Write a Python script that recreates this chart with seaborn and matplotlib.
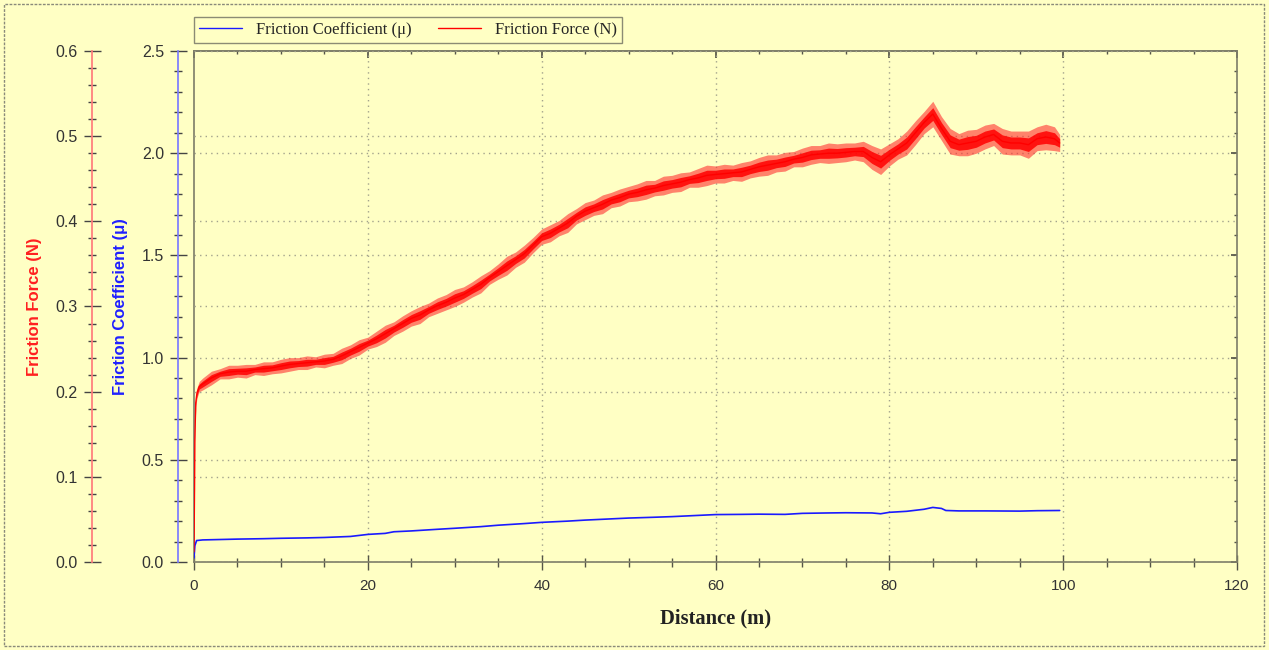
import matplotlib
matplotlib.use("Agg")
import numpy as np
import pandas as pd
import matplotlib.pyplot as plt
import seaborn as sns
from matplotlib.ticker import MultipleLocator
from matplotlib.patches import Rectangle

# ---- friction force (N) vs distance (m) ----
force_dist = [0.0, 0.05, 0.1, 0.2, 0.35, 0.6,
              1, 2, 3, 4, 5, 6, 7, 8, 9, 10,
              11, 12, 13, 14, 15, 16, 17, 18, 19, 20,
              21, 22, 23, 24, 25, 26, 27, 28, 29, 30,
              31, 32, 33, 34, 35, 36, 37, 38, 39, 40,
              41, 42, 43, 44, 45, 46, 47, 48, 49, 50,
              51, 52, 53, 54, 55, 56, 57, 58, 59, 60,
              61, 62, 63, 64, 65, 66, 67, 68, 69, 70,
              71, 72, 73, 74, 75, 76, 77, 78, 79, 80,
              81, 82, 83, 84, 85, 86, 87, 88, 89, 90,
              91, 92, 93, 94, 95, 96, 97, 98, 99, 99.6]
force_n = [0.012, 0.072, 0.144, 0.187, 0.199, 0.206,
           0.209, 0.216, 0.221, 0.223, 0.224, 0.224, 0.226, 0.227, 0.228, 0.230,
           0.232, 0.233, 0.234, 0.235, 0.236, 0.238, 0.242, 0.247, 0.252, 0.257,
           0.262, 0.268, 0.274, 0.280, 0.286, 0.290, 0.296, 0.301, 0.305, 0.310,
           0.314, 0.320, 0.326, 0.334, 0.341, 0.348, 0.355, 0.362, 0.372, 0.382,
           0.386, 0.392, 0.398, 0.406, 0.412, 0.416, 0.420, 0.425, 0.428, 0.432,
           0.434, 0.437, 0.439, 0.442, 0.444, 0.446, 0.449, 0.451, 0.454, 0.455,
           0.456, 0.457, 0.458, 0.461, 0.464, 0.466, 0.468, 0.470, 0.473, 0.475,
           0.478, 0.479, 0.480, 0.480, 0.481, 0.482, 0.482, 0.475, 0.470, 0.478,
           0.485, 0.492, 0.504, 0.516, 0.526, 0.509, 0.494, 0.490, 0.492, 0.494,
           0.499, 0.502, 0.494, 0.492, 0.492, 0.490, 0.497, 0.499, 0.497, 0.492]
# half-width of the measured fluctuation band around the force trace
force_spread = [0.0, 0.003, 0.004, 0.005, 0.006, 0.006,
                0.007, 0.008, 0.006, 0.008, 0.007, 0.008, 0.006, 0.008, 0.007, 0.008,
                0.008, 0.007, 0.008, 0.006, 0.008, 0.007, 0.009, 0.008, 0.009, 0.007,
                0.009, 0.010, 0.008, 0.009, 0.009, 0.010, 0.008, 0.009, 0.009, 0.010,
                0.009, 0.009, 0.010, 0.008, 0.009, 0.011, 0.009, 0.010, 0.009, 0.009,
                0.010, 0.009, 0.011, 0.009, 0.010, 0.009, 0.011, 0.009, 0.010, 0.009,
                0.010, 0.011, 0.009, 0.011, 0.010, 0.011, 0.009, 0.011, 0.012, 0.010,
                0.011, 0.009, 0.011, 0.010, 0.011, 0.012, 0.010, 0.011, 0.009, 0.011,
                0.011, 0.010, 0.012, 0.011, 0.011, 0.010, 0.012, 0.014, 0.015, 0.013,
                0.012, 0.014, 0.014, 0.013, 0.015, 0.014, 0.015, 0.013, 0.015, 0.014,
                0.014, 0.013, 0.015, 0.014, 0.014, 0.016, 0.014, 0.015, 0.014, 0.010]

# ---- friction coefficient vs distance ----
mu_dist = [0, 0.1, 0.3, 1, 3, 5, 8, 10, 13, 15, 18, 20, 22, 23, 25, 28, 30,
           33, 35, 38, 40, 43, 45, 48, 50, 53, 55, 58, 60, 63, 65, 68, 70,
           73, 75, 78, 79, 80, 82, 84, 85, 86, 86.5, 88, 91, 95, 97, 99.6]
mu_vals = [0.02, 0.08, 0.105, 0.108, 0.110, 0.112, 0.114, 0.116, 0.118, 0.120,
           0.125, 0.135, 0.140, 0.148, 0.152, 0.160, 0.165, 0.173, 0.180, 0.188,
           0.194, 0.200, 0.205, 0.211, 0.215, 0.219, 0.222, 0.228, 0.232, 0.233,
           0.234, 0.233, 0.238, 0.240, 0.241, 0.240, 0.236, 0.243, 0.248, 0.258,
           0.267, 0.262, 0.252, 0.250, 0.250, 0.249, 0.251, 0.252]

x_ticks = [0, 20, 40, 60, 80, 100, 120]
mu_ticks = [0.0, 0.5, 1.0, 1.5, 2.0, 2.5]
force_ticks = [0.0, 0.1, 0.2, 0.3, 0.4, 0.5, 0.6]

label_mu = "Friction Coefficient (\u03bc)"
label_force = "Friction Force (N)"

force_df = pd.DataFrame({"dist": force_dist, "force": force_n, "spread": force_spread})
mu_df = pd.DataFrame({"dist": mu_dist, "mu": mu_vals})

sns.set_theme(style="ticks")
plt.rcParams["font.family"] = ["Liberation Sans", "DejaVu Sans"]

BG = "#FFFFC4"
FRAME = "#7d7d68"
GRID = "#a3a38c"
TICKLAB = "#333333"
PX = 0.72  # points per pixel at 100 dpi

fig = plt.figure(figsize=(12.69, 6.5), dpi=100, facecolor=BG)
ax = fig.add_axes([194 / 1269, 88 / 650, 1043 / 1269, 511 / 650])
ax.set_facecolor(BG)

# axis carrying the coefficient scale, and the one carrying force
ax_mu = ax.twinx()
ax_f = ax.twinx()
for a in (ax_mu, ax_f):
    a.patch.set_visible(False)
    for s in ("top", "bottom", "right"):
        a.spines[s].set_visible(False)
    a.yaxis.tick_left()
    a.yaxis.set_label_position("left")
    a.spines["left"].set_visible(True)

ax_mu.spines["left"].set_position(("outward", 16 * PX))
ax_f.spines["left"].set_position(("outward", 102 * PX))
ax_mu.spines["left"].set_color("#7b7bff")
ax_f.spines["left"].set_color("#ff7b7b")

# main frame
ax.set_xlim(0, 120)
ax.set_ylim(0, 2.5)
ax_mu.set_ylim(0, 2.5)
ax_f.set_ylim(0, 0.6)
for s in ax.spines.values():
    s.set_color(FRAME)
    s.set_linewidth(1.2)

ax.set_xticks(x_ticks)
ax.xaxis.set_minor_locator(MultipleLocator(5))
ax.tick_params(axis="x", which="major", direction="inout", length=15 * PX,
               width=1, color="#555548", labelsize=11, labelcolor=TICKLAB, pad=7)
ax.tick_params(axis="x", which="minor", direction="inout", length=9 * PX,
               width=1, color="#555548")

top = ax.secondary_xaxis("top")
top.set_xticks(x_ticks)
top.xaxis.set_minor_locator(MultipleLocator(5))
top.tick_params(which="major", direction="in", length=7 * PX, color="#555548", labeltop=False)
top.tick_params(which="minor", direction="in", length=3 * PX, color="#555548")
top.spines["top"].set_color(FRAME)
top.spines["top"].set_linewidth(1.2)

ax.yaxis.tick_right()
ax.set_yticks(mu_ticks)
ax.yaxis.set_minor_locator(MultipleLocator(0.1))
ax.tick_params(axis="y", which="major", direction="in", length=6 * PX,
               color="#555548", labelright=False)
ax.tick_params(axis="y", which="minor", direction="in", length=3 * PX, color="#555548")

ax_mu.set_yticks(mu_ticks)
ax_mu.yaxis.set_minor_locator(MultipleLocator(0.1))
ax_f.set_yticks(force_ticks)
ax_f.yaxis.set_minor_locator(MultipleLocator(0.02))
for a in (ax_mu, ax_f):
    a.tick_params(axis="y", which="major", direction="inout", length=17 * PX,
                  width=1, color="#444444", labelsize=11.5, labelcolor=TICKLAB, pad=4)
    a.tick_params(axis="y", which="minor", direction="inout", length=8 * PX,
                  width=1, color="#444444")
    a.yaxis.set_major_formatter(matplotlib.ticker.FormatStrFormatter("%.1f"))

# dotted grid: verticals + both sets of horizontals
grid_kw = dict(color=GRID, linestyle=(0, (1, 3)), linewidth=1.0)
for xv in x_ticks[1:-1]:
    ax.axvline(xv, zorder=0.5, **grid_kw)
for yv in mu_ticks[1:-1]:
    ax.axhline(yv, zorder=0.5, **grid_kw)
ax_f.set_axisbelow(True)
ax_f.yaxis.grid(True, which="major", **grid_kw)
ax_f.xaxis.grid(False)
ax_mu.grid(False)
ax.grid(False)

# data traces
sns.lineplot(data=mu_df, x="dist", y="mu", ax=ax_mu, color="#1a1aff",
             linewidth=1.2, legend=False, estimator=None)
ax_f.fill_between(force_df["dist"], force_df["force"] - force_df["spread"],
                  force_df["force"] + force_df["spread"], color="#ff3030",
                  alpha=0.6, linewidth=0)
ax_f.fill_between(force_df["dist"], force_df["force"] - 0.5 * force_df["spread"],
                  force_df["force"] + 0.5 * force_df["spread"], color="#ff0000",
                  alpha=0.85, linewidth=0)
sns.lineplot(data=force_df, x="dist", y="force", ax=ax_f, color="#ff0000",
             linewidth=1.0, legend=False, estimator=None)

ax.set_xlabel("Distance (m)", fontsize=14.8, fontweight="bold",
              family=["Liberation Serif", "DejaVu Serif"], color="#222222", labelpad=11)
ax_mu.set_ylabel(label_mu, fontsize=12, fontweight="bold", color="#2020ff")
ax_f.set_ylabel(label_force, fontsize=12, fontweight="bold", color="#ff2020")
ax_mu.set_xlabel("")
ax_f.set_xlabel("")
ax_mu.yaxis.set_label_coords((128 - 194) / 1043, 0.5)
ax_f.yaxis.set_label_coords((42 - 194) / 1043, 0.5)

# legend with both traces
h_mu = ax_mu.get_lines()[0]
h_f = ax_f.get_lines()[0]
leg = ax_f.legend([h_mu, h_f], [label_mu, label_force], ncol=2,
                  loc="upper left", bbox_to_anchor=(194 / 1269, 1 - 17 / 650),
                  bbox_transform=fig.transFigure, frameon=True, fancybox=False,
                  borderaxespad=0, handlelength=2.6, columnspacing=1.6,
                  handletextpad=0.8, borderpad=0.3,
                  prop={"family": ["Liberation Serif", "DejaVu Serif"], "size": 12})
leg.get_frame().set_facecolor(BG)
leg.get_frame().set_edgecolor("#6e6e60")
leg.get_frame().set_linewidth(1.0)
for ln in leg.get_lines():
    ln.set_linewidth(1.0)

# outer dotted frame around the figure
fig.patches.append(Rectangle((4 / 1269, 4 / 650), 1260 / 1269, 642 / 650,
                             transform=fig.transFigure, fill=False,
                             edgecolor="#8a8a7a", linewidth=1.0,
                             linestyle=(0, (2, 1))))

fig.savefig("out.png", dpi=100, facecolor=BG)
